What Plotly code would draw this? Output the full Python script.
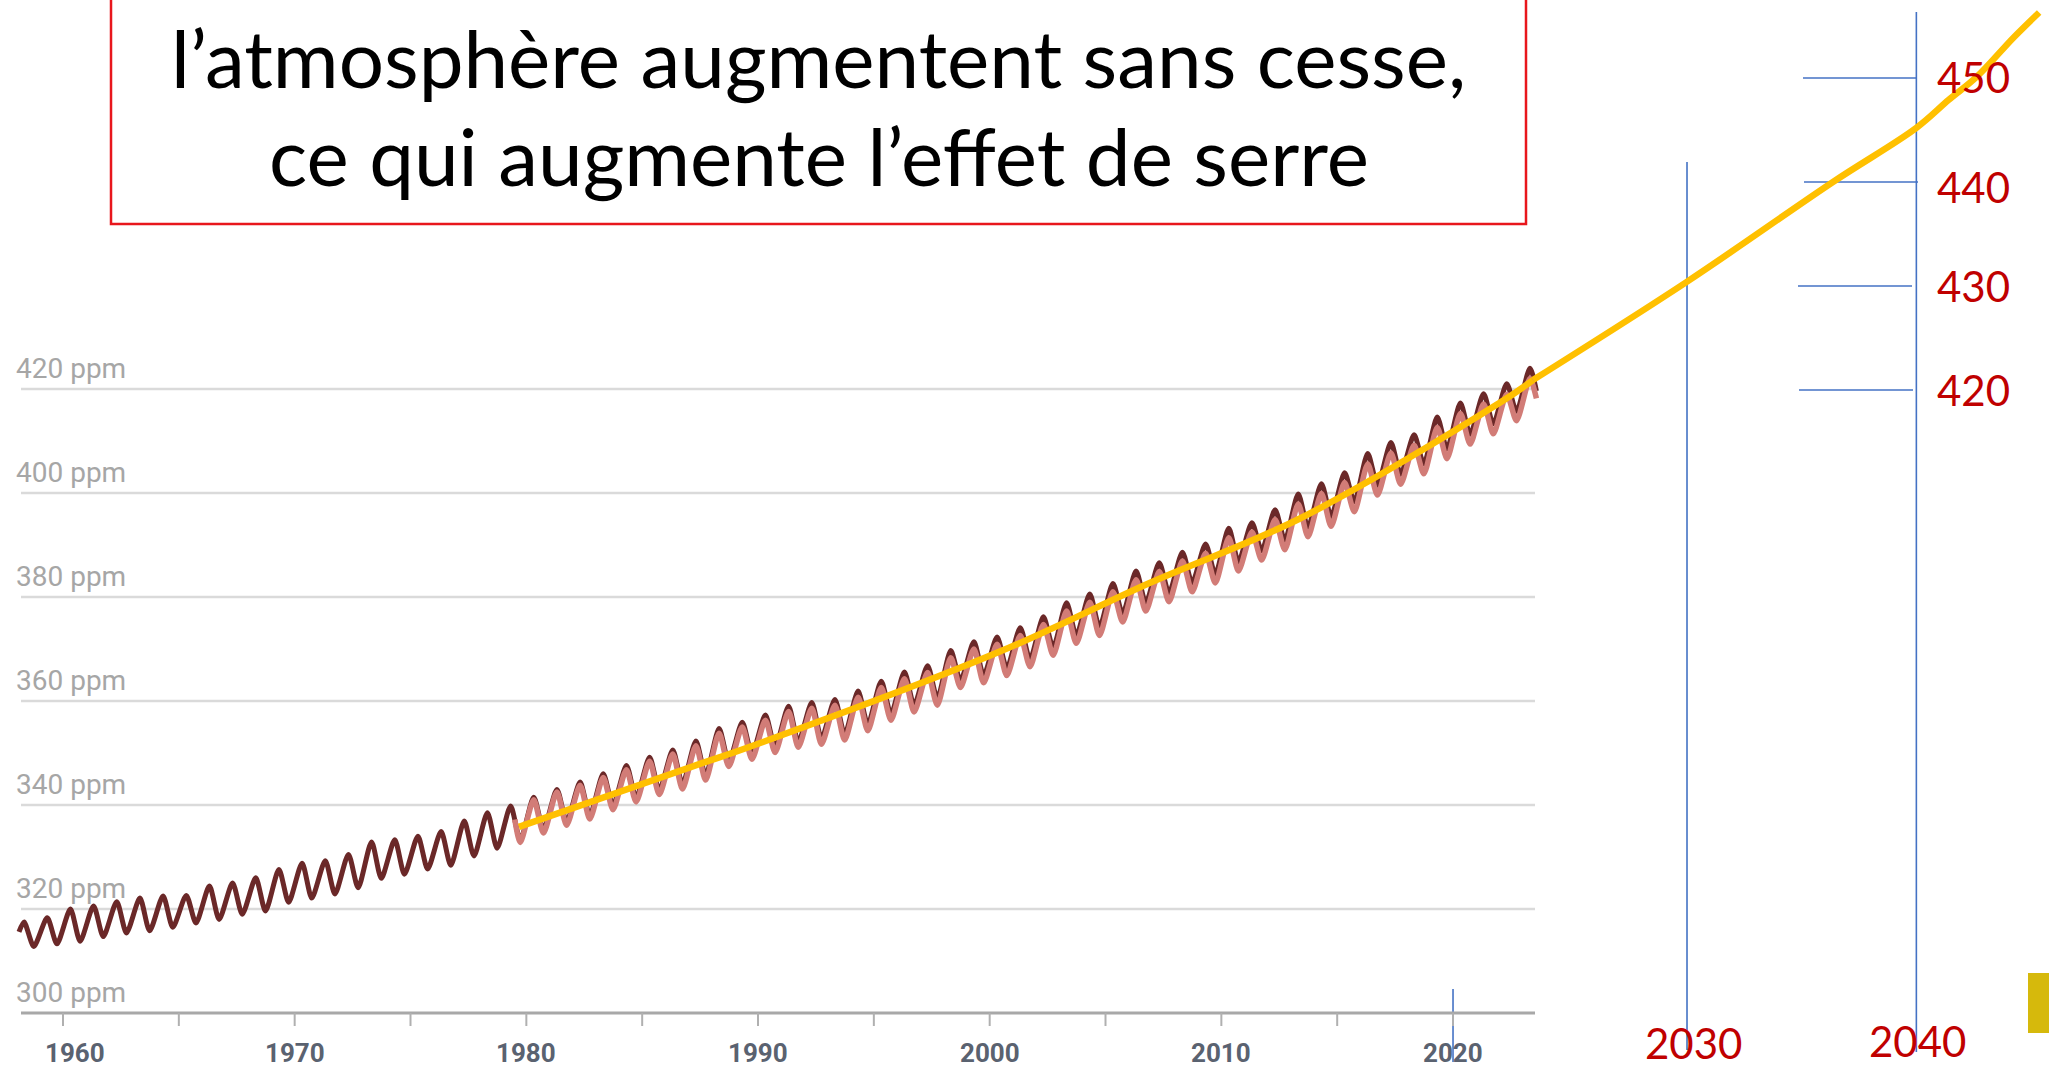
import plotly.graph_objects as go

# ---------------- data ----------------
mlo_peak_years = list(range(1958, 2024))
mlo_peak = [317.5, 318.3, 320.0, 320.6, 321.4, 322.1, 322.5, 322.6, 324.4, 325.0, 326.0, 327.6,
            328.8, 329.3, 330.5, 332.9, 333.3, 334.0, 334.9, 336.9, 338.5, 339.8,
            341.5, 343.0, 344.4, 346.0, 347.6, 349.2, 350.6, 352.3, 354.7, 355.9,
            357.3, 359.0, 359.7, 360.3, 361.9, 363.8, 365.6, 366.8, 369.7, 371.4,
            372.3, 374.1, 376.2, 378.9, 380.6, 382.6, 385.0, 386.6, 388.6, 390.2,
            393.2, 394.3, 396.8, 399.8, 401.8, 403.9, 407.6, 409.7, 411.2, 414.6,
            417.3, 419.1, 421.0, 424.0]
mlo_trough_years = list(range(1958, 2023))
mlo_trough = [312.8, 313.3, 313.8, 314.7, 315.4, 315.8, 316.5, 317.3, 318.0, 319.0, 319.6, 321.3,
              322.1, 322.9, 324.1, 325.9, 326.7, 327.7, 328.4, 330.2, 331.7, 333.3,
              335.3, 336.8, 338.0, 339.9, 341.4, 342.8, 344.0, 345.7, 348.3, 349.8,
              351.1, 352.1, 352.8, 353.6, 355.5, 357.5, 359.2, 360.5, 363.9, 364.9,
              366.3, 368.0, 370.3, 372.6, 374.2, 376.8, 378.9, 380.8, 382.7, 384.4,
              386.8, 388.9, 390.9, 393.4, 395.5, 398.3, 401.5, 403.6, 405.6, 408.5,
              411.3, 413.3, 415.7]
mlo_start = (1958.1, 315.6)
mlo_end = (2023.6, 419.6)

glb_peak_years = list(range(1980, 2024))
glb_peak = [341.0, 342.5, 343.8, 345.3, 346.8, 348.4, 349.8, 351.4, 353.8, 355.0,
            356.3, 358.0, 358.6, 359.2, 360.7, 362.6, 364.3, 365.5, 368.3, 370.0,
            370.9, 372.6, 374.7, 377.3, 379.0, 381.0, 383.3, 384.9, 386.9, 388.4,
            391.4, 392.5, 394.9, 397.9, 399.9, 402.0, 405.6, 407.7, 409.2, 412.6,
            415.3, 417.1, 419.0, 422.0]
glb_trough_years = list(range(1979, 2023))
glb_trough = [332.8,
              334.6, 336.1, 337.3, 339.1, 340.6, 342.0, 343.1, 344.8, 347.4, 348.8,
              350.1, 351.1, 351.7, 352.5, 354.3, 356.3, 357.9, 359.2, 362.6, 363.5,
              364.9, 366.6, 368.8, 371.1, 372.6, 375.2, 377.3, 379.1, 381.0, 382.7,
              385.0, 387.1, 389.1, 391.6, 393.6, 396.4, 399.6, 401.7, 403.7, 406.6,
              409.4, 411.4, 413.9]
glb_start = (1979.5, 337.2)
glb_end = (2023.6, 418.2)

trend_years = [1979.68, 1987.49, 1989.65, 2000.44, 2006.9, 2013.39, 2022.0, 2023.45]
trend_ppm = [335.8, 347.9, 351.2, 369.5, 382.7, 395.1, 417.3, 421.7]

proj_years = [2023.45, 2030.09, 2036.4, 2040.0, 2041.4, 2042.6, 2044.2, 2045.3]
proj_ppm = [420.96, 430.4, 440.0, 445.2, 447.9, 450.1, 453.9, 456.3]

grid_ppm = [300, 320, 340, 360, 380, 400, 420]
grid_labels = ["300 ppm", "320 ppm", "340 ppm", "360 ppm", "380 ppm", "400 ppm", "420 ppm"]
tick_years = list(range(1960, 2021, 5))
label_years = [1960, 1970, 1980, 1990, 2000, 2010, 2020]
proj_ticks = [420, 430, 440, 450]
proj_year_marks = [2020, 2030, 2040]
title_lines = ["l’atmosphère augmentent sans cesse,", "ce qui augmente l’effet de serre"]

# ---------------- layout geometry ----------------
W, H = 2049, 1068
PX_YEAR = 23.167          # px per year
X_1960 = 63.0             # px of 1960
PX_PPM = 5.2              # px per ppm (chart scale)
Y_420 = 389.0             # px of 420 ppm
PX_PPM2 = 10.4            # px per ppm (hand-drawn projection scale)
Y2_420 = 390.0

x_range = [1960 - X_1960 / PX_YEAR, 1960 + (W - X_1960) / PX_YEAR]
y_range = [420 - (H - Y_420) / PX_PPM, 420 + Y_420 / PX_PPM]
y2_range = [420 - (H - Y2_420) / PX_PPM2, 420 + Y2_420 / PX_PPM2]


def px_year(px):
    return 1960 + (px - X_1960) / PX_YEAR


def wave(start, pyears, peaks, tyears, troughs, end):
    pts = [start] + [(y + 0.32, v) for y, v in zip(pyears, peaks)] \
        + [(y + 0.74, v) for y, v in zip(tyears, troughs)] + [end]
    pts.sort()
    return [p[0] for p in pts], [p[1] for p in pts]


mlo_x, mlo_y = wave(mlo_start, mlo_peak_years, mlo_peak, mlo_trough_years, mlo_trough, mlo_end)
glb_x, glb_y = wave(glb_start, glb_peak_years, glb_peak, glb_trough_years, glb_trough, glb_end)

fig = go.Figure()
fig.add_trace(go.Scatter(x=mlo_x, y=mlo_y, mode="lines", hoverinfo="skip",
                         line=dict(color="#6b2828", width=5, shape="spline", smoothing=0.7)))
fig.add_trace(go.Scatter(x=glb_x, y=glb_y, mode="lines", hoverinfo="skip",
                         line=dict(color="#d27c77", width=5.5, shape="spline", smoothing=0.7)))
fig.add_trace(go.Scatter(x=trend_years, y=trend_ppm, mode="lines", hoverinfo="skip",
                         line=dict(color="#ffc000", width=6.5, shape="spline")))
fig.add_trace(go.Scatter(x=proj_years, y=proj_ppm, yaxis="y2", mode="lines", hoverinfo="skip",
                         line=dict(color="#ffc000", width=6.5, shape="spline")))

shapes = []
annotations = []
x_left = px_year(21)
x_right = px_year(1535)

# gridlines + baseline
for v, lab in zip(grid_ppm, grid_labels):
    base = v == grid_ppm[0]
    shapes.append(dict(type="line", xref="x", yref="y", x0=x_left, x1=x_right, y0=v, y1=v,
                       line=dict(color="#a8a8a8" if base else "#dadada", width=3 if base else 2.5),
                       layer="below"))
    annotations.append(dict(x=px_year(14), y=v, xref="x", yref="y",
                            text=lab, showarrow=False, xanchor="left", yanchor="middle", yshift=21,
                            font=dict(family="Roboto", size=28, color="#a6a6a6")))

# x ticks
for yr in tick_years:
    shapes.append(dict(type="line", xref="x", yref="y", x0=yr, x1=yr,
                       y0=grid_ppm[0], y1=grid_ppm[0] - 13 / PX_PPM,
                       line=dict(color="#b0b0b0", width=2), layer="below"))
for yr in label_years:
    annotations.append(dict(x=yr + (0.5 if yr == label_years[0] else 0), y=grid_ppm[0],
                            xref="x", yref="y", text=str(yr), showarrow=False,
                            xanchor="center", yanchor="middle", yshift=-40,
                            font=dict(family="Roboto", size=26, color="#5a6270", weight="bold")))

# hand-drawn blue projection frame
blue = dict(color="#4472c4", width=1.6)
shapes.append(dict(type="line", xref="x", yref="paper", x0=proj_year_marks[0], x1=proj_year_marks[0],
                   y0=1 - 1062 / H, y1=1 - 989 / H, line=blue, layer="below"))
shapes.append(dict(type="line", xref="x", yref="paper", x0=proj_year_marks[1] + 0.1, x1=proj_year_marks[1] + 0.1,
                   y0=1 - 1050 / H, y1=1 - 162 / H, line=blue, layer="below"))
shapes.append(dict(type="line", xref="x", yref="paper", x0=proj_year_marks[2], x1=proj_year_marks[2],
                   y0=1 - 1052 / H, y1=1 - 12 / H, line=blue, layer="below"))
tick_spans = {420: (1799, 1913), 430: (1798, 1912), 440: (1804, 1918), 450: (1803, 1917)}
label_shift = {420: 0, 430: 0, 440: -5, 450: 1}
for v in proj_ticks:
    a, b = tick_spans[v]
    shapes.append(dict(type="line", xref="x", yref="y2", x0=px_year(a), x1=px_year(b),
                       y0=v, y1=v, line=blue, layer="below"))
    annotations.append(dict(x=px_year(1973), y=v, xref="x", yref="y2", yshift=label_shift[v],
                            text=str(v), showarrow=False, xanchor="center", yanchor="middle",
                            font=dict(family="Lato", size=42, color="#c00000")))

annotations.append(dict(x=px_year(1693), y=1 - 1043 / H, xref="x", yref="paper", text=str(proj_year_marks[1]),
                        showarrow=False, xanchor="center", yanchor="middle",
                        font=dict(family="Lato", size=42, color="#c00000")))
annotations.append(dict(x=px_year(1917), y=1 - 1041 / H, xref="x", yref="paper", text=str(proj_year_marks[2]),
                        showarrow=False, xanchor="center", yanchor="middle",
                        font=dict(family="Lato", size=42, color="#c00000")))

# yellow block at right edge
shapes.append(dict(type="rect", xref="paper", yref="paper", x0=2028 / W, x1=1.0,
                   y0=1 - 1033 / H, y1=1 - 973 / H, fillcolor="#d6b90c", line=dict(width=0)))

# title box
shapes.append(dict(type="rect", xref="paper", yref="paper", x0=111 / W, x1=1526 / W,
                   y0=1 - 224 / H, y1=1.05, fillcolor="rgba(255,255,255,0)",
                   line=dict(color="#e8161c", width=2.5)))
for line_text, ymid in zip(title_lines, [57, 155]):
    annotations.append(dict(x=818.5 / W, y=1 - ymid / H, xref="paper", yref="paper",
                            text=line_text, showarrow=False, xanchor="center", yanchor="middle",
                            font=dict(family="Lato", size=80, color="#000000")))

fig.update_layout(
    width=W, height=H, margin=dict(l=0, r=0, t=0, b=0),
    paper_bgcolor="white", plot_bgcolor="white", showlegend=False,
    xaxis=dict(range=x_range, visible=False, fixedrange=True),
    yaxis=dict(range=y_range, visible=False, fixedrange=True),
    yaxis2=dict(range=y2_range, visible=False, overlaying="y", fixedrange=True),
    shapes=shapes, annotations=annotations,
)

fig.write_html("out.html", config=dict(displayModeBar=False),
               post_script="document.body.style.margin='0';document.body.style.overflow='hidden';")
